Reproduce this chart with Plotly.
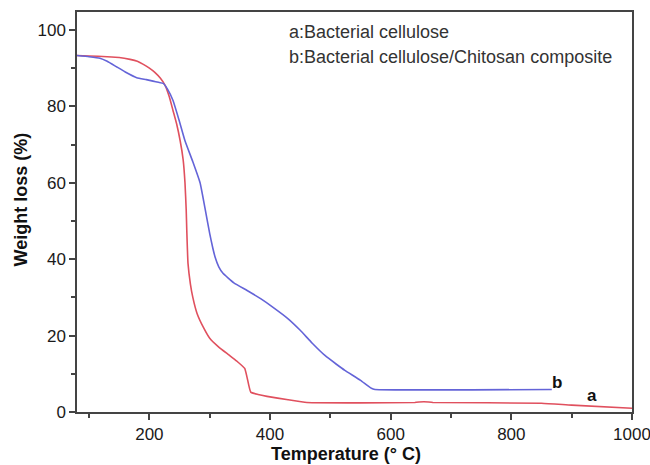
import plotly.graph_objects as go

# Curve a: Bacterial cellulose
a_temp = [80, 100, 130, 150, 168, 180, 190, 200, 209, 218, 226, 233, 239, 245, 251,
          256, 259, 261, 262, 264, 268, 272, 279, 290, 300, 315, 333, 345, 358,
          362, 368, 380, 395, 430, 461, 550, 640, 655, 670, 850, 900, 1000]
a_weight = [93.3, 93.2, 93.0, 92.8, 92.3, 91.8, 91.0, 90.0, 88.9, 87.4, 85.5, 82.5,
            79.0, 75.5, 71.0, 66.0, 60.0, 53.0, 47.5, 38.9, 33.5, 30.0, 25.8, 22.0,
            19.3, 17.0, 14.8, 13.3, 11.4, 9.0, 5.2, 4.6, 4.1, 3.2, 2.5, 2.4, 2.5,
            2.7, 2.5, 2.3, 1.8, 1.0]

# Curve b: Bacterial cellulose/Chitosan composite
b_temp = [80, 100, 118, 130, 146, 160, 179, 195, 206, 215, 223, 230, 239, 249, 259,
          272, 284, 292, 300, 305, 309, 315, 322, 340, 362, 385, 405, 430, 450,
          470, 491, 510, 524, 550, 568, 574, 867]
b_weight = [93.3, 93.0, 92.6, 91.8, 90.3, 89.0, 87.5, 87.0, 86.6, 86.3, 86.0, 84.5,
            81.6, 76.5, 71.0, 65.5, 60.0, 53.5, 46.7, 43.0, 40.5, 38.0, 36.3, 33.8,
            31.8, 29.6, 27.4, 24.4, 21.4, 18.0, 14.8, 12.5, 10.9, 8.3, 6.2, 5.9, 5.9]

legend_lines = ["a:Bacterial cellulose", "b:Bacterial cellulose/Chitosan composite"]

fig = go.Figure()
fig.add_trace(go.Scatter(x=a_temp, y=a_weight, mode="lines",
                         line=dict(color="#e0505e", width=1.6, shape="spline", smoothing=0.4),
                         showlegend=False))
fig.add_trace(go.Scatter(x=b_temp, y=b_weight, mode="lines",
                         line=dict(color="#6464d8", width=1.6, shape="spline", smoothing=0.4),
                         showlegend=False))

font_main = "Liberation Sans, Arial, sans-serif"

axis_common = dict(
    showline=True, linecolor="#444444", linewidth=1.5, mirror=True,
    ticks="outside", ticklen=6, tickwidth=1.5, tickcolor="#444444",
    showgrid=False, zeroline=False, ticklabeloverflow="allow", automargin=False,
    tickfont=dict(family=font_main, size=17, color="#1a1a1a"),
)

fig.update_xaxes(range=[80, 1000], tick0=0, dtick=200,
                 minor=dict(ticks="outside", ticklen=4, dtick=100, tick0=0,
                            tickcolor="#444444", tickwidth=1.5),
                 **axis_common)
fig.update_yaxes(range=[0, 104.7], tick0=0, dtick=20,
                 minor=dict(ticks="outside", ticklen=4, dtick=10, tick0=0,
                            tickcolor="#444444", tickwidth=1.5),
                 **axis_common)

pw, ph = 650 - 77 - 18, 465 - 12 - 53

annotations = [
    dict(text=legend_lines[0], x=428, y=99.4, xref="x", yref="y", xanchor="left",
         yanchor="middle", showarrow=False,
         font=dict(family=font_main, size=18, color="#333333")),
    dict(text=legend_lines[1], x=428, y=92.9, xref="x", yref="y", xanchor="left",
         yanchor="middle", showarrow=False,
         font=dict(family=font_main, size=18, color="#333333")),
    dict(text="<b>b</b>", x=875, y=7.8, xref="x", yref="y", showarrow=False,
         font=dict(family=font_main, size=17, color="#111111")),
    dict(text="<b>a</b>", x=933, y=4.4, xref="x", yref="y", showarrow=False,
         font=dict(family=font_main, size=17, color="#111111")),
    dict(text="<b>Temperature (° C)</b>", x=(346 - 77) / pw, y=(465 - 53 - 454) / ph,
         xref="paper", yref="paper", xanchor="center", yanchor="middle",
         showarrow=False, font=dict(family=font_main, size=18, color="#111111")),
    dict(text="<b>Weight loss (%)</b>", x=(20.5 - 77) / pw, y=(465 - 53 - 200) / ph,
         xref="paper", yref="paper", xanchor="center", yanchor="middle",
         showarrow=False, textangle=-90,
         font=dict(family=font_main, size=18, color="#111111")),
]

fig.update_layout(
    width=650, height=465,
    margin=dict(l=77, r=18, t=12, b=53, autoexpand=False),
    paper_bgcolor="white", plot_bgcolor="white",
    annotations=annotations,
)

fig.write_html("out.html")
